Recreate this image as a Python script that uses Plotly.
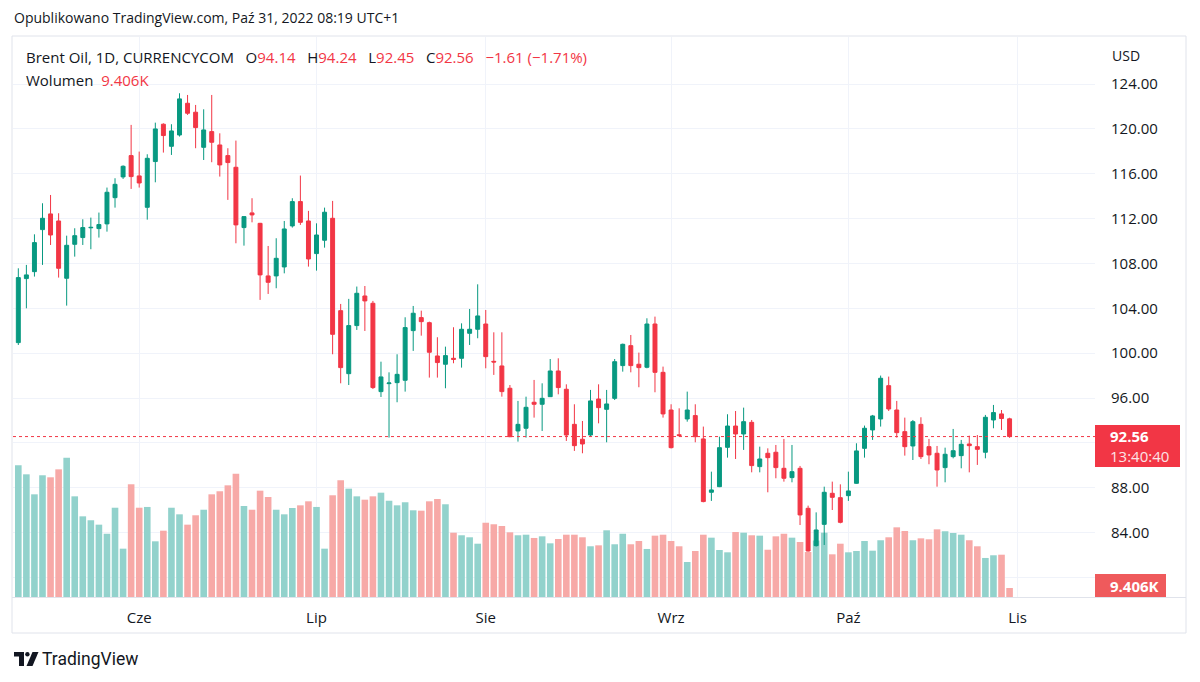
import pandas as pd
import plotly.graph_objects as go

# ---------------- data ----------------
dates = pd.bdate_range("2022-05-11", "2022-10-31")

open_ = [100.94, 106.65, 107.27, 111.02, 112.42, 111.79, 106.68, 109.71, 110.31, 111.18,
         111.11, 111.53, 113.87, 115.72, 117.62, 115.81, 113.01, 117.09, 120.42, 118.45,
         119.46, 122.29, 121.49, 118.36, 119.76, 118.57, 117.62, 116.58, 111.20, 112.51,
         111.58, 106.89, 106.89, 107.69, 111.35, 113.52, 111.79, 108.88, 110.07, 112.03,
         103.79, 98.17, 102.46, 105.10, 104.45, 96.57, 97.28, 97.37, 97.58, 102.01,
         103.17, 102.72, 99.75, 99.01, 99.54, 99.54, 101.77, 102.13, 102.60, 99.27,
         98.86, 96.87, 93.06, 93.30, 95.62, 95.44, 96.12, 98.41, 96.78, 93.65,
         92.32, 92.70, 95.91, 94.99, 95.97, 98.89, 100.67, 99.01, 98.74, 102.60,
         98.29, 94.93, 92.72, 94.13, 94.43, 92.35, 87.59, 88.09, 91.60, 93.50,
         92.79, 93.83, 89.88, 91.07, 91.16, 89.73, 88.90, 89.73, 86.16, 82.83,
         84.73, 87.50, 87.11, 87.29, 88.39, 91.51, 93.15, 94.13, 97.10, 94.93,
         93.00, 91.72, 93.65, 91.66, 91.07, 89.79, 90.77, 90.86, 91.90, 91.66,
         91.16, 94.04, 94.58, 94.14]
high = [107.57, 107.87, 110.60, 113.37, 114.11, 112.48, 110.48, 111.14, 111.94, 112.09,
        112.54, 114.77, 115.60, 116.75, 120.36, 117.98, 117.74, 120.56, 120.50, 120.42,
        123.18, 123.03, 122.14, 121.75, 123.03, 119.61, 118.28, 118.96, 112.18, 113.82,
        111.62, 109.56, 110.25, 111.79, 113.82, 115.84, 112.69, 111.58, 112.98, 113.58,
        104.39, 104.84, 105.94, 105.99, 104.66, 99.24, 98.29, 99.90, 103.20, 104.21,
        103.79, 102.81, 101.42, 100.58, 102.31, 102.66, 103.94, 106.14, 103.85, 101.86,
        101.86, 97.16, 95.74, 96.12, 97.61, 97.31, 99.48, 99.54, 97.22, 95.44,
        93.95, 96.72, 97.22, 96.72, 99.48, 100.85, 101.62, 100.05, 103.11, 103.26,
        98.80, 95.44, 95.08, 96.57, 95.44, 93.45, 89.43, 92.55, 94.55, 94.84,
        95.14, 94.04, 91.66, 91.51, 91.81, 92.35, 91.81, 89.94, 86.40, 85.80,
        88.09, 88.54, 88.30, 89.43, 91.96, 93.54, 94.49, 98.00, 97.91, 95.74,
        94.25, 94.04, 94.28, 92.35, 91.72, 91.57, 93.24, 92.26, 92.64, 92.70,
        94.49, 95.38, 94.93, 94.24]
low = [100.73, 104.00, 106.83, 107.87, 109.65, 106.74, 104.24, 108.61, 109.65, 109.27,
       110.31, 110.84, 112.98, 115.54, 114.65, 114.77, 111.91, 115.24, 117.89, 117.68,
       119.32, 121.25, 118.28, 117.23, 117.03, 115.75, 113.67, 109.80, 109.59, 111.67,
       104.75, 105.28, 105.79, 107.12, 111.20, 111.44, 107.72, 107.36, 109.41, 99.90,
       97.31, 97.16, 102.07, 101.98, 96.80, 96.09, 92.47, 95.62, 96.57, 100.20,
       101.56, 97.82, 97.82, 96.87, 99.10, 98.71, 100.73, 101.33, 98.65, 98.06,
       96.12, 92.50, 92.11, 92.47, 94.25, 93.06, 96.10, 96.33, 92.17, 91.28,
       91.07, 92.55, 93.74, 92.05, 95.82, 98.35, 98.29, 96.96, 98.65, 96.51,
       94.25, 91.50, 92.55, 93.89, 92.05, 86.70, 86.82, 88.05, 90.68, 90.56,
       91.37, 89.37, 89.37, 87.59, 88.84, 88.54, 88.48, 84.67, 82.30, 82.75,
       82.89, 86.01, 84.82, 86.82, 88.35, 90.68, 92.26, 93.45, 94.84, 92.47,
       90.86, 90.47, 90.56, 90.09, 88.09, 88.48, 90.62, 89.73, 89.37, 90.03,
       90.62, 93.30, 93.15, 92.45]
close = [106.74, 106.98, 109.86, 112.03, 110.54, 107.57, 109.62, 110.48, 111.20, 111.22,
         111.47, 114.35, 115.06, 116.67, 115.75, 115.18, 117.38, 120.00, 119.41, 119.82,
         122.68, 121.40, 120.12, 119.91, 118.81, 116.79, 117.00, 111.44, 112.18, 112.33,
         106.98, 106.32, 108.46, 111.08, 113.52, 111.67, 108.40, 110.54, 112.57, 101.68,
         98.71, 102.46, 105.34, 104.66, 96.93, 97.88, 97.34, 98.11, 102.28, 103.56,
         102.81, 100.08, 99.16, 99.78, 99.45, 102.13, 102.13, 103.32, 99.69, 99.21,
         96.57, 92.55, 93.65, 95.17, 95.44, 95.97, 98.41, 96.93, 92.70, 91.75,
         91.90, 95.74, 95.14, 95.47, 99.24, 100.79, 98.89, 98.71, 102.60, 98.29,
         94.58, 91.57, 92.65, 94.93, 92.55, 86.76, 87.80, 91.57, 93.50, 92.79,
         93.89, 89.97, 90.56, 90.68, 89.79, 88.84, 89.43, 85.57, 82.35, 84.23,
         87.59, 87.14, 84.91, 87.71, 91.28, 93.30, 94.40, 97.76, 95.02, 92.91,
         91.66, 93.89, 90.77, 90.92, 89.58, 90.98, 91.30, 91.87, 91.75, 91.42,
         94.28, 94.70, 94.17, 92.56]
volume_k = [137.6, 128.2, 107.3, 127.2, 125.1, 133.4, 145.6, 105.2, 84.3, 80.2,
            75.6, 66.1, 93.3, 50.5, 117.8, 93.3, 94.1, 58.2, 69.3, 93.3, 86.4,
            75.6, 85.4, 91.2, 107.3, 110.5, 116.7, 128.8, 95.1, 91.2, 111.1,
            104.5, 91.2, 86.4, 93.0, 95.8, 100.0, 94.1, 50.5, 106.3, 122.0, 113.2,
            105.2, 101.7, 105.2, 109.0, 100.6, 95.8, 99.0, 90.6, 90.2, 100.0,
            102.4, 96.9, 67.2, 64.5, 62.4, 55.7, 77.6, 76.0, 74.2, 67.6, 64.5,
            65.1, 61.7, 63.4, 56.1, 60.6, 65.1, 65.1, 62.4, 53.0, 54.0,
            69.7, 55.1, 66.1, 55.1, 58.5, 50.2, 64.1, 65.1, 58.5, 53.0, 36.6,
            48.1, 65.1, 62.0, 49.1, 46.7, 67.9, 67.2, 64.5, 64.1, 49.4,
            63.4, 66.1, 62.0, 57.5, 47.0, 59.0, 67.2, 44.6, 55.7, 46.7, 48.1,
            58.5, 48.4, 59.3, 62.4, 72.8, 69.0, 59.3, 61.3, 60.3, 70.7,
            68.7, 66.9, 65.1, 59.3, 53.0, 40.8, 43.6, 44.2, 9.406]
month_labels = ["Cze", "Lip", "Sie", "Wrz", "Paź", "Lis"]
price_ticks = [80, 84, 88, 92, 96, 100, 104, 108, 112, 116, 120, 124]
hidden_ticks = [80, 92]   # covered by the last-value labels in the reference

# ---------------- styling ----------------
GREEN = "#089981"
RED = "#F23645"
VGREEN = "#92D2CC"
VRED = "#F7A9A7"
TXT = "#131722"
GRID = "#F0F3FA"
FONT = "Open Sans"
SP = "&nbsp;&nbsp;&nbsp;"

idx = list(range(len(dates)))
month_pos = [i for i in range(1, len(dates)) if dates[i].month != dates[i - 1].month]
month_pos.append(len(dates))

vol_colors = [VGREEN if c >= o else VRED for o, c in zip(open_, close)]
price_ticktext = ["" if t in hidden_ticks else f"{t:.2f}" for t in price_ticks]

# plot area in pixels
L, R, T, B = 13, 1095, 37, 597
PW, PH = R - L, B - T


def px(x):
    return (x - L) / PW


def py(y):
    return (B - y) / PH


fig = go.Figure()
fig.add_trace(go.Bar(x=idx, y=volume_k, marker=dict(color=vol_colors, line=dict(width=0)),
                     width=0.82, yaxis="y", hoverinfo="skip"))
fig.add_trace(go.Candlestick(
    x=idx, open=open_, high=high, low=low, close=close, yaxis="y2",
    increasing=dict(line=dict(color=GREEN, width=1), fillcolor=GREEN),
    decreasing=dict(line=dict(color=RED, width=1), fillcolor=RED),
    whiskerwidth=0))

last_close = close[-1]
chg = close[-1] - close[-2]
pct = chg / close[-2] * 100

shapes = [
    dict(type="rect", xref="paper", yref="paper", x0=px(12), x1=px(1186), y0=py(633), y1=py(36),
         line=dict(color="#E0E3EB", width=1), layer="below"),
    dict(type="line", xref="paper", yref="paper", x0=px(12), x1=px(1186), y0=py(597.5), y1=py(597.5),
         line=dict(color="#E0E3EB", width=1)),
    dict(type="line", xref="paper", yref="y2", x0=0, x1=1, y0=last_close, y1=last_close,
         line=dict(color=RED, width=1, dash="dot")),
    dict(type="rect", xref="paper", yref="paper", x0=px(1095), x1=px(1180), y0=py(467), y1=py(425),
         fillcolor=RED, line=dict(width=0), layer="above"),
    dict(type="rect", xref="paper", yref="paper", x0=px(1095), x1=px(1166), y0=py(597), y1=py(574),
         fillcolor="#EF5A5C", line=dict(width=0), layer="above"),
    # TradingView logo
    dict(type="path", xref="paper", yref="paper",
         path=f"M {px(14)},{py(652)} L {px(24)},{py(652)} L {px(24)},{py(666)} L {px(19)},{py(666)} "
              f"L {px(19)},{py(656.5)} L {px(14)},{py(656.5)} Z",
         fillcolor="#131722", line=dict(width=0)),
    dict(type="circle", xref="paper", yref="paper", x0=px(25.2), x1=px(29.6), y0=py(656.4), y1=py(652),
         fillcolor="#131722", line=dict(width=0)),
    dict(type="path", xref="paper", yref="paper",
         path=f"M {px(32.5)},{py(652)} L {px(38.5)},{py(652)} L {px(32.5)},{py(666)} L {px(26.5)},{py(666)} Z",
         fillcolor="#131722", line=dict(width=0)),
]

header = (f"Brent Oil, 1D, CURRENCYCOM{SP}O<span style='color:{RED}'>{open_[-1]:.2f}</span>"
          f"{SP}H<span style='color:{RED}'>{high[-1]:.2f}</span>"
          f"{SP}L<span style='color:{RED}'>{low[-1]:.2f}</span>"
          f"{SP}C<span style='color:{RED}'>{close[-1]:.2f}</span>"
          f"{SP}<span style='color:{RED}'>\u2212{abs(chg):.2f} (\u2212{abs(pct):.2f}%)</span>")

annotations = [
    dict(text="Opublikowano TradingView.com, Paź 31, 2022 08:19 UTC+1", x=px(12), y=py(18),
         font=dict(size=14, color=TXT, family=FONT)),
    dict(text=header, x=px(24), y=py(57), font=dict(size=15, color=TXT, family=FONT)),
    dict(text=f"Wolumen&nbsp;&nbsp;<span style='color:{RED}'>{volume_k[-1]:.3f}K</span>", x=px(24), y=py(80),
         font=dict(size=15, color=TXT, family=FONT)),
    dict(text="USD", x=px(1110), y=py(55), font=dict(size=14, color=TXT, family=FONT)),
    dict(text=f"<b>{last_close:.2f}</b>", x=px(1108), y=py(436), font=dict(size=15, color="white", family=FONT)),
    dict(text="13:40:40", x=px(1108), y=py(456), font=dict(size=15, color="#FCE3E5", family=FONT)),
    dict(text=f"<b>{volume_k[-1]:.3f}K</b>", x=px(1108), y=py(586), font=dict(size=15, color="white", family=FONT)),
    dict(text="TradingView", x=px(40), y=py(659), font=dict(size=17.5, color=TXT, family="Roboto")),
]
for a in annotations:
    a.update(xref="paper", yref="paper", xanchor="left", yanchor="middle", showarrow=False)

fig.update_layout(
    width=1200, height=682,
    margin=dict(l=L, r=1200 - R, t=T, b=682 - B),
    paper_bgcolor="white", plot_bgcolor="white",
    showlegend=False, bargap=0.18,
    font=dict(family=FONT, color=TXT, size=13),
    xaxis=dict(range=[-0.66, 133.6], tickvals=month_pos, ticktext=month_labels,
               showgrid=True, gridcolor=GRID, gridwidth=1, zeroline=False, showline=False,
               ticks="outside", ticklen=7, tickcolor="rgba(0,0,0,0)",
               tickfont=dict(size=15, color=TXT, family=FONT), rangeslider=dict(visible=False)),
    yaxis=dict(range=[0, 585.2], visible=False, showgrid=False, fixedrange=True),
    yaxis2=dict(overlaying="y", side="right", range=[78.25, 128.2], tickvals=price_ticks,
                ticktext=price_ticktext, showgrid=True, gridcolor=GRID, gridwidth=1, zeroline=False,
                showline=False, ticks="outside", ticklen=12, tickcolor="rgba(0,0,0,0)",
                tickfont=dict(size=15, color=TXT, family=FONT)),
    shapes=shapes,
    annotations=annotations,
)

fig.write_html("out.html", config={"displayModeBar": False},
               post_script="document.body.style.margin='0';")
